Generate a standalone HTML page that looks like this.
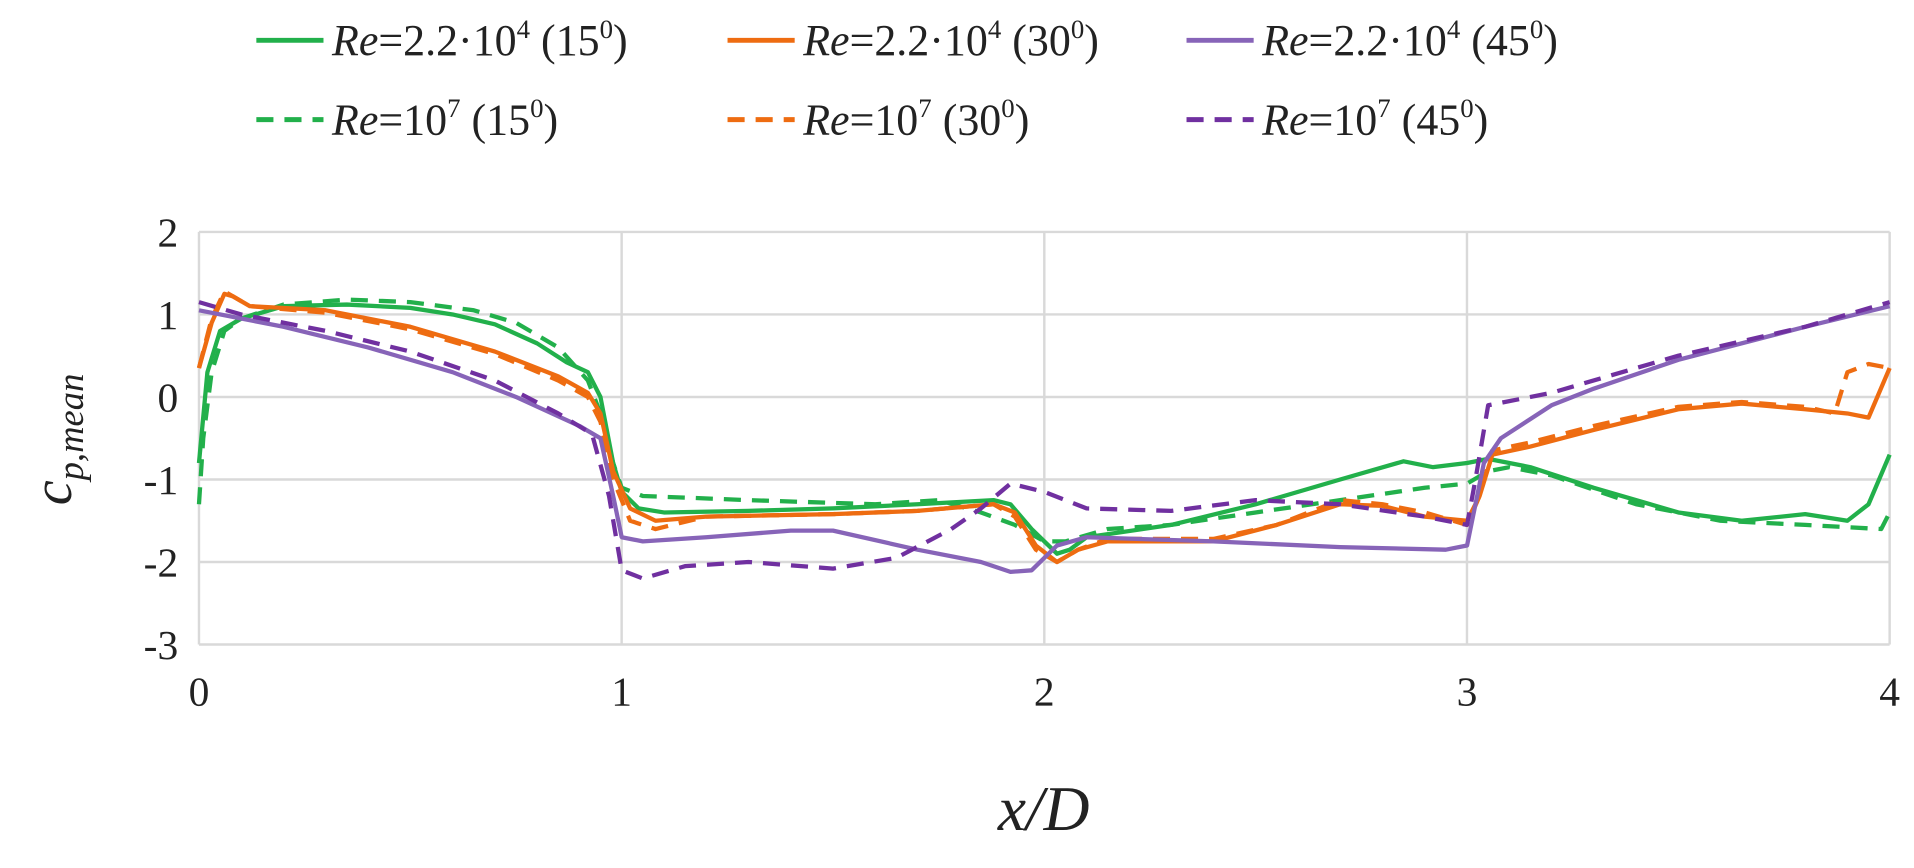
<!DOCTYPE html>
<html><head><meta charset="utf-8">
<style>
body{margin:0;background:#fff;}
svg{display:block;font-family:"Liberation Serif","DejaVu Serif",serif;}
</style></head>
<body>
<svg id="chart" width="1914" height="868" viewBox="0 0 1914 868" xmlns="http://www.w3.org/2000/svg">
<g transform="scale(1.2207)">
<g id="grid"></g>
<g id="series"></g>
<g id="ticks" font-size="34" fill="#222"></g>
<text x="855" y="680" font-size="52" font-style="italic" text-anchor="middle" fill="#222">x/D</text>
<text transform="translate(58,360) rotate(-90)" font-size="46" font-style="italic" text-anchor="middle" fill="#222">c<tspan font-size="30" dy="10">p,mean</tspan></text>
<g id="legend" font-size="36" fill="#222"></g>
</g>
</svg>
<script>
const xTicks=[0,1,2,3,4];
const yTicks=[2,1,0,-1,-2,-3];
const gS_x=[0,0.02,0.05,0.1,0.2,0.35,0.5,0.6,0.7,0.8,0.87,0.92,0.95,0.98,1.0,1.04,1.1,1.3,1.5,1.7,1.88,1.92,1.97,2.03,2.06,2.1,2.3,2.5,2.7,2.85,2.92,3.0,3.05,3.15,3.3,3.5,3.65,3.8,3.9,3.95,4.0];
const gS_y=[-0.8,0.3,0.8,0.95,1.1,1.12,1.08,1.0,0.88,0.65,0.42,0.3,0,-0.8,-1.15,-1.35,-1.4,-1.38,-1.35,-1.3,-1.25,-1.3,-1.6,-1.9,-1.85,-1.7,-1.55,-1.3,-1.0,-0.78,-0.85,-0.8,-0.75,-0.85,-1.1,-1.4,-1.5,-1.42,-1.5,-1.3,-0.7];
const gD_x=[0,0.01,0.03,0.06,0.1,0.2,0.35,0.5,0.65,0.75,0.85,0.92,0.95,0.98,1.0,1.05,1.3,1.6,1.75,1.85,1.93,2.0,2.05,2.15,2.3,2.5,2.7,2.9,3.0,3.05,3.1,3.2,3.4,3.6,3.8,3.98,4.0];
const gD_y=[-1.3,-0.5,0.3,0.8,0.95,1.12,1.18,1.15,1.05,0.9,0.6,0.2,-0.2,-0.8,-1.1,-1.2,-1.25,-1.3,-1.25,-1.4,-1.55,-1.75,-1.75,-1.6,-1.55,-1.4,-1.25,-1.1,-1.05,-0.9,-0.85,-0.95,-1.3,-1.5,-1.55,-1.6,-1.4];
const oS_x=[0,0.03,0.06,0.08,0.12,0.3,0.5,0.7,0.85,0.92,0.95,0.98,1.02,1.08,1.2,1.5,1.7,1.88,1.93,1.98,2.03,2.08,2.15,2.4,2.55,2.7,2.8,2.9,3.0,3.03,3.06,3.15,3.3,3.5,3.65,3.8,3.9,3.95,4.0];
const oS_y=[0.35,0.9,1.25,1.22,1.1,1.05,0.85,0.55,0.25,0.05,-0.2,-0.9,-1.35,-1.5,-1.45,-1.42,-1.38,-1.3,-1.4,-1.8,-2.0,-1.85,-1.75,-1.75,-1.55,-1.3,-1.32,-1.45,-1.5,-1.2,-0.7,-0.6,-0.4,-0.15,-0.08,-0.15,-0.2,-0.25,0.35];
const oD_x=[0,0.03,0.06,0.08,0.12,0.3,0.5,0.7,0.85,0.92,0.95,0.98,1.02,1.08,1.2,1.5,1.7,1.88,1.93,1.98,2.03,2.08,2.15,2.4,2.55,2.7,2.8,2.9,3.0,3.03,3.06,3.15,3.3,3.5,3.65,3.8,3.87,3.9,3.95,4.0];
const oD_y=[0.35,0.95,1.28,1.22,1.1,1.02,0.82,0.52,0.2,0.0,-0.3,-1.0,-1.5,-1.6,-1.45,-1.42,-1.38,-1.3,-1.45,-1.85,-2.0,-1.85,-1.72,-1.72,-1.55,-1.25,-1.3,-1.4,-1.55,-1.2,-0.65,-0.55,-0.35,-0.12,-0.06,-0.12,-0.2,0.3,0.4,0.35];
const pS_x=[0,0.2,0.4,0.6,0.75,0.9,0.95,0.98,1.0,1.05,1.2,1.4,1.5,1.7,1.85,1.92,1.97,2.03,2.1,2.4,2.7,2.95,3.0,3.04,3.08,3.2,3.3,3.5,3.8,4.0];
const pS_y=[1.05,0.85,0.6,0.3,0.0,-0.35,-0.5,-1.2,-1.7,-1.75,-1.7,-1.62,-1.62,-1.85,-2.0,-2.12,-2.1,-1.8,-1.7,-1.75,-1.82,-1.85,-1.8,-0.8,-0.5,-0.1,0.1,0.45,0.85,1.1];
const pD_x=[0,0.1,0.3,0.5,0.7,0.85,0.93,0.97,1.0,1.05,1.15,1.3,1.5,1.65,1.78,1.85,1.92,2.0,2.1,2.3,2.5,2.7,2.9,3.0,3.02,3.05,3.2,3.5,3.8,4.0];
const pD_y=[1.15,1.0,0.8,0.55,0.2,-0.2,-0.45,-1.2,-2.1,-2.2,-2.05,-2.0,-2.08,-1.95,-1.6,-1.35,-1.05,-1.15,-1.35,-1.38,-1.25,-1.3,-1.45,-1.55,-1.0,-0.1,0.05,0.5,0.85,1.15];

const NS='http://www.w3.org/2000/svg';
const X0=163,X1=1548,Y2=190,Ym3=528;
function sx(v){return X0+(v-0)/(4-0)*(X1-X0);}
function sy(v){return Y2+(2-v)/(2-(-3))*(Ym3-Y2);}
function mk(t,a,p){const e=document.createElementNS(NS,t);for(const k in a)e.setAttribute(k,a[k]);p.appendChild(e);return e;}
const grid=document.getElementById('grid'),ticks=document.getElementById('ticks');
yTicks.forEach(v=>{
  const l=mk('line',{x1:X0,x2:X1,y1:sy(v),y2:sy(v),stroke:'#d9d9d9','stroke-width':2},grid);
  
  
  const t=mk('text',{x:146,y:sy(v)+12,'text-anchor':'end'},ticks);t.textContent=v;
  
  
});
xTicks.forEach(v=>{
  const l=mk('line',{x1:sx(v),x2:sx(v),y1:Y2,y2:Ym3,stroke:'#d9d9d9','stroke-width':2},grid);
  
  
  const t=mk('text',{x:sx(v),y:578,'text-anchor':'middle'},ticks);t.textContent=v;
  
  
});
const ser=document.getElementById('series');
const defs=[[gS_x,gS_y,'#22b04b',false,'green-solid-line'],[gD_x,gD_y,'#22b04b',true,'green-dashed-line'],
[oS_x,oS_y,'#ee6c11',false,'orange-solid-line'],[oD_x,oD_y,'#ee6c11',true,'orange-dashed-line'],
[pS_x,pS_y,'#8764b8',false,'purple-solid-line'],[pD_x,pD_y,'#7030a0',true,'purple-dashed-line']];
defs.forEach(d=>{
  const pts=d[0].map((x,i)=>sx(x).toFixed(1)+','+sy(d[1][i]).toFixed(1)).join(' ');
  const a={points:pts,fill:'none',stroke:d[2],'stroke-width':3.5,'stroke-linejoin':'round'};
  if(d[3])a['stroke-dasharray']='14,9';
  const p=mk('polyline',a,ser);
  
  
});
const leg=document.getElementById('legend');
const legItems=[[210,45,'#22b04b',false,'2.2·10','4','15'],[596,45,'#ee6c11',false,'2.2·10','4','30'],[972,45,'#8764b8',false,'2.2·10','4','45'],
[210,110,'#22b04b',true,'10','7','15'],[596,110,'#ee6c11',true,'10','7','30'],[972,110,'#7030a0',true,'10','7','45']];
legItems.forEach(it=>{
  const g=mk('g',{},leg);
  
  
  const a={x1:it[0],x2:it[0]+55,y1:it[1]-12,y2:it[1]-12,stroke:it[2],'stroke-width':4};
  if(it[3])a['stroke-dasharray']='14,9';
  mk('line',a,g);
  const t=mk('text',{x:it[0]+62,y:it[1]},g);
  t.innerHTML='<tspan font-style="italic">Re</tspan>='+it[4]+'<tspan font-size="22" dy="-14">'+it[5]+'</tspan><tspan dy="14"> (</tspan>'+it[6]+'<tspan font-size="22" dy="-14">0</tspan><tspan dy="14">)</tspan>';
});
</script>
</body></html>
